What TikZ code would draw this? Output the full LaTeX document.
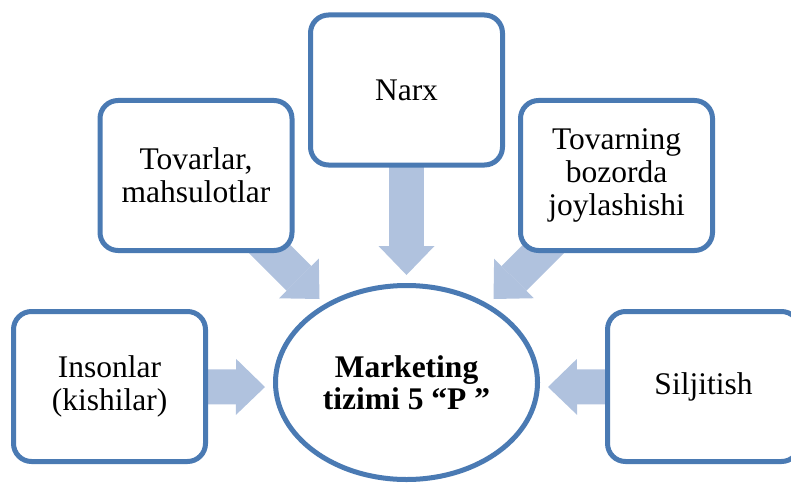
\documentclass[tikz,border=0pt]{standalone}
\usepackage{fontspec}
\setmainfont{Liberation Serif}
\usetikzlibrary{arrows.meta,shapes.geometric}
\pgfdeclarelayer{background}
\pgfsetlayers{background,main}
\definecolor{boxblue}{HTML}{4A7AB3}
\definecolor{arrowblue}{HTML}{B0C2DE}
\begin{document}
\begin{tikzpicture}[x=1pt,y=-1pt,
  card/.style={draw=boxblue, line width=5pt, fill=white, rounded corners=18pt,
    minimum width=192pt, minimum height=150pt, align=center, inner sep=0pt,
    font=\fontsize{31.5}{33}\selectfont},
  hub/.style={draw=boxblue, line width=5pt, fill=white, ellipse,
    minimum width=262pt, minimum height=194pt, align=center, inner sep=0pt,
    font=\bfseries\fontsize{31.5}{32}\selectfont},
  blockarrow/.style={draw=arrowblue, line width=35pt,
    -{Triangle[length=29pt,width=56pt,line width=0pt]}}
]
\useasboundingbox (0,0) rectangle (791,484);

% the five elements around the centre
\node[card] (narx)  at (406.5,90)  {Narx};
\node[card] (tovar) at (196,175.5) {Tovarlar,\\mahsulotlar};
\node[card] (joy)   at (616.5,175.5) {Tovarning\\bozorda\\joylashishi};
\node[card] (inson) at (109.5,386.5) {Insonlar\\(kishilar)};
\node[card] (silj)  at (703.5,386.5) {Siljitish};

% centre
\node[hub] (hub) at (406.5,382.5) {Marketing\\tizimi 5 “P ”};

% arrow tips, just short of the centre ellipse
\coordinate (tipN)  at (406.5,275);
\coordinate (tipNW) at (319.5,299);
\coordinate (tipNE) at (493.5,299);
\coordinate (tipW)  at (265,387);
\coordinate (tipE)  at (548,387);

% block arrows, starting beneath the boxes
\begin{pgfonlayer}{background}
  \draw[blockarrow] (narx.center)  -- (tipN);
  \draw[blockarrow] (tovar.center) -- (tipNW);
  \draw[blockarrow] (joy.center)   -- (tipNE);
  \draw[blockarrow] (inson.center) -- (tipW);
  \draw[blockarrow] (silj.center)  -- (tipE);
\end{pgfonlayer}
\end{tikzpicture}
\end{document}
